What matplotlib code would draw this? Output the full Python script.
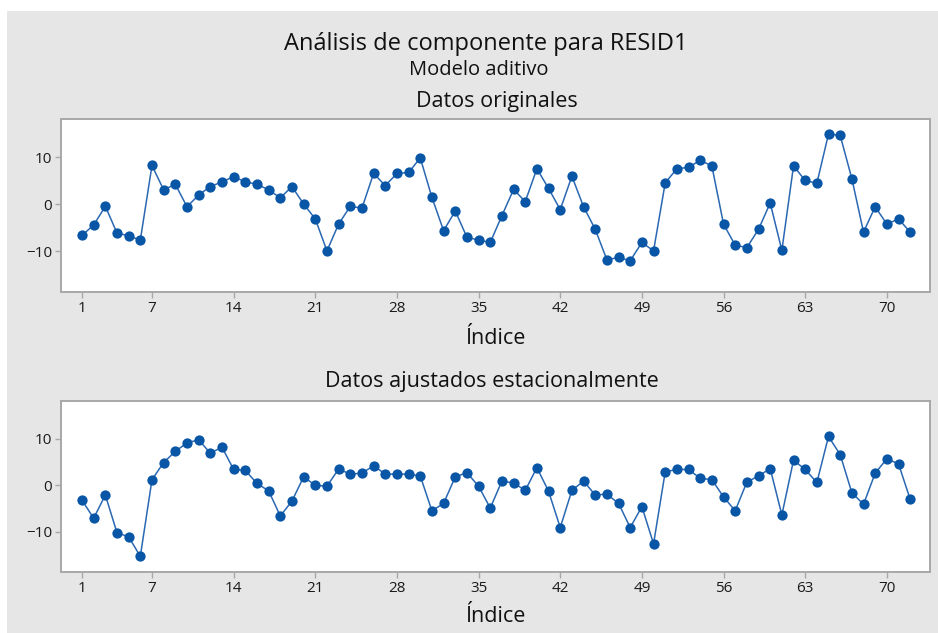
import matplotlib
matplotlib.use("Agg")
import matplotlib.pyplot as plt
from matplotlib.patches import Rectangle

plt.rcParams['font.family'] = ['Open Sans', 'DejaVu Sans']

index = list(range(1, 73))
original = [-6.6, -4.4, -0.4, -6.1, -6.7, -7.6, 8.3, 3.1, 4.3, -0.5,
            2.0, 3.8, 4.8, 5.9, 4.8, 4.3, 3.1, 1.4, 3.8, 0.1,
            -3.1, -9.9, -4.2, -0.4, -0.8, 6.6, 4.0, 6.6, 6.8, 9.9,
            1.5, -5.6, -1.4, -7.0, -7.6, -8.1, -2.4, 3.2, 0.6, 7.6,
            3.4, -1.1, 6.0, -0.5, -5.3, -11.8, -11.3, -12.0, -8.1, -9.9,
            4.6, 7.6, 7.9, 9.4, 8.2, -4.2, -8.7, -9.2, -5.3, 0.3,
            -9.8, 8.2, 5.1, 4.5, 15.0, 14.7, 5.5, -5.9, -0.5, -4.2,
            -3.1, -5.9]
adjusted = [-3.2, -7.1, -2.1, -10.2, -11.1, -15.3, 1.2, 4.9, 7.3, 9.1,
            9.8, 6.9, 8.2, 3.4, 3.2, 0.4, -1.2, -6.6, -3.4, 1.8,
            0.0, -0.2, 3.5, 2.4, 2.6, 4.2, 2.4, 2.4, 2.4, 2.0,
            -5.5, -3.9, 1.8, 2.7, -0.2, -4.9, 0.9, 0.5, -1.1, 3.8,
            -1.3, -9.1, -1.1, 0.9, -2.1, -1.9, -3.9, -9.1, -4.6, -12.6,
            2.9, 3.4, 3.4, 1.5, 1.2, -2.5, -5.5, 0.7, 2.0, 3.6,
            -6.4, 5.4, 3.4, 0.6, 10.5, 6.6, -1.6, -4.1, 2.6, 5.7,
            4.6, -3.0]
xticks = [1, 7, 14, 21, 28, 35, 42, 49, 56, 63, 70]
yticks = [-10, 0, 10]

main_title = "Análisis de componente para RESID1"
subtitle = "Modelo aditivo"
panel_titles = ["Datos originales", "Datos ajustados estacionalmente"]
xlabel = "Índice"

W, H = 938, 633
fig = plt.figure(figsize=(W / 100, H / 100), dpi=100)
fig.patch.set_facecolor('white')
fig.patches.append(Rectangle((7 / W, 0), 1 - 7 / W, 1 - 11 / H,
                             transform=fig.transFigure, facecolor='#e6e6e6',
                             edgecolor='none', zorder=-10))

blue = '#0a56a6'
line_blue = '#2a68b2'
spine_c = '#a8a8a8'
positions = [(61, 119, 930, 291.7), (61, 400.7, 930, 571.7)]
series = [original, adjusted]
for (l, t, r, b), data in zip(positions, series):
    ax = fig.add_axes([l / W, 1 - b / H, (r - l) / W, (b - t) / H])
    ax.set_facecolor('white')
    ax.plot(index, data, color=line_blue, lw=1.1, zorder=2)
    ax.plot(index, data, ls='none', marker='o', ms=7.4,
            markeredgewidth=0, markerfacecolor=blue, zorder=3)
    ax.set_xlim(-0.8, 73.7)
    ax.set_ylim(-18.6, 18.2)
    ax.set_xticks(xticks)
    ax.set_yticks(yticks)
    for s in ax.spines.values():
        s.set_color(spine_c)
        s.set_linewidth(1.4)
    ax.tick_params(axis='both', colors=spine_c, labelcolor='#1a1a1a',
                   length=4, width=1.0, labelsize=11)
    ax.tick_params(axis='x', pad=3)
    ax.tick_params(axis='y', pad=2.5)

fig.text(486 / W, 1 - 44 / H, main_title, ha='center', va='center',
         fontsize=17, color='#111111')
fig.text(478.5 / W, 1 - 70 / H, subtitle, ha='center', va='center',
         fontsize=14.5, color='#111111')
fig.text(496.5 / W, 1 - 102 / H, panel_titles[0], ha='center', va='center',
         fontsize=15.5, color='#111111')
fig.text(495 / W, 1 - 338 / H, xlabel, ha='center', va='center',
         fontsize=15.5, color='#111111')
fig.text(492 / W, 1 - 381 / H, panel_titles[1], ha='center', va='center',
         fontsize=15.5, color='#111111')
fig.text(495 / W, 1 - 617 / H, xlabel, ha='center', va='center',
         fontsize=15.5, color='#111111')

fig.savefig('out.png', dpi=100, facecolor=fig.get_facecolor())
